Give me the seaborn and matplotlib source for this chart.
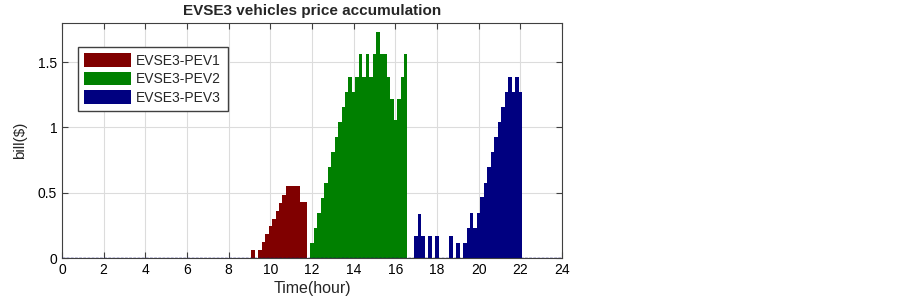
import numpy as np
import pandas as pd
import matplotlib
matplotlib.use("Agg")
import matplotlib.pyplot as plt
import seaborn as sns

# 10-minute slots, values
pev1_start = 9 + 1/6
pev1_bill = [0.06, 0.0, 0.06, 0.12, 0.185, 0.245, 0.30, 0.36, 0.42, 0.48,
             0.55, 0.55, 0.55, 0.55, 0.43, 0.43]

pev2_start = 12.0
pev2_bill = [0.115, 0.23, 0.346, 0.46, 0.577, 0.695, 0.81, 0.925, 1.04, 1.155,
             1.27, 1.385, 1.27, 1.385, 1.56, 1.385, 1.56, 1.385, 1.56, 1.73,
             1.56, 1.56, 1.385, 1.215, 1.055, 1.215, 1.385, 1.56]

pev3_start = 17.0
pev3_bill = [0.172, 0.338, 0.172, 0.0, 0.172, 0.0, 0.172, 0.0, 0.0, 0.0,
             0.172, 0.0, 0.115, 0.0, 0.115, 0.23, 0.346, 0.23, 0.346, 0.465,
             0.577, 0.695, 0.81, 0.925, 1.04, 1.155, 1.27, 1.39, 1.27, 1.39, 1.27]

labels = ['EVSE3-PEV1', 'EVSE3-PEV2', 'EVSE3-PEV3']
colors = ['#800000', '#008000', '#000080']

frames = []
for lab, start, vals in zip(labels, [pev1_start, pev2_start, pev3_start],
                            [pev1_bill, pev2_bill, pev3_bill]):
    t = np.round(start + np.arange(len(vals)) / 6, 4)
    frames.append(pd.DataFrame({'time': t, 'bill': vals, 'vehicle': lab}))
df = pd.concat(frames, ignore_index=True)

sns.set_style('white')
plt.rcParams['font.family'] = ['Liberation Sans', 'DejaVu Sans']

fig = plt.figure(figsize=(9.03, 3.08), dpi=100)
ax = fig.add_axes([62/903, 50/308, 500/903, 235/308])

sns.barplot(data=df, x='time', y='bill', hue='vehicle', hue_order=labels,
            palette=colors, native_scale=True, dodge=False, width=1.0,
            saturation=1, errorbar=None, linewidth=0, ax=ax)

# dashed baseline like the zero-height bars in the original
ax.axhline(0, color='#000080', lw=1.0, ls=(0, (2, 1)), zorder=3)

ax.set_xlim(0, 24)
ax.set_ylim(0, 1.8)
ax.set_xticks(np.arange(0, 25, 2))
ax.set_xticklabels([str(v) for v in range(0, 25, 2)])
ax.set_yticks([0, 0.5, 1, 1.5])
ax.set_yticklabels(['0', '0.5', '1', '1.5'])
ax.grid(True, color='#dcdcdc', lw=0.8)
ax.set_axisbelow(True)
ax.tick_params(direction='in', length=4, width=0.8, colors='#404040',
               labelsize=10, top=True, right=True, bottom=True, left=True,
               labelcolor='black')
for s in ax.spines.values():
    s.set_visible(True)
    s.set_color('#404040')
    s.set_linewidth(0.8)

ax.set_title('EVSE3 vehicles price accumulation', fontsize=11,
             fontweight='bold', pad=6)
ax.set_xlabel('Time(hour)', fontsize=11.5, labelpad=3)
ax.set_ylabel('bill($)', fontsize=11, labelpad=8)

handles, _ = ax.get_legend_handles_labels()
ax.legend(handles, labels, loc='upper left', bbox_to_anchor=(0.032, 0.898),
          borderaxespad=0, fontsize=10, frameon=True, fancybox=False,
          framealpha=1, edgecolor='#404040', handlelength=3.4,
          handleheight=1.1, labelspacing=0.3, handletextpad=0.35,
          borderpad=0.45)

fig.savefig('out.png', dpi=100)
